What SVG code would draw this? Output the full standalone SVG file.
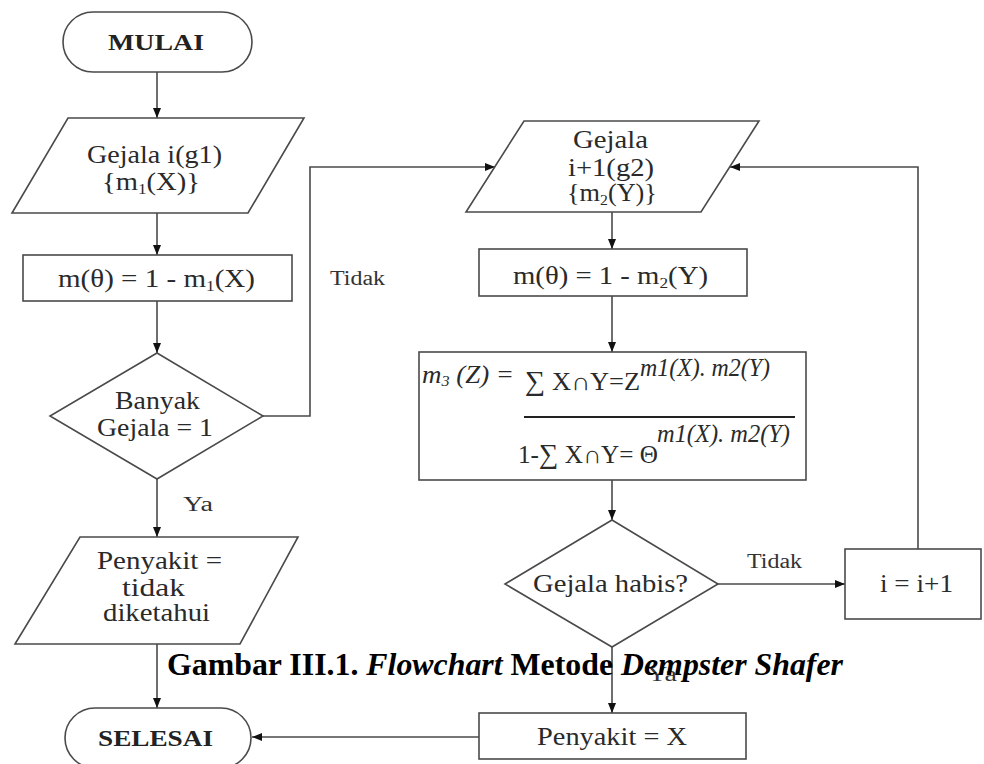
<svg xmlns="http://www.w3.org/2000/svg" width="984" height="764" viewBox="0 0 984 764">
  <style>
    .shape { fill: #ffffff; stroke: #4a4a4a; stroke-width: 1.6; }
    .wire { fill: none; stroke: #4a4a4a; stroke-width: 1.6; }
    .t { font-family: "Liberation Serif", "Times New Roman", serif; font-size: 25px; fill: #2a2a2a; }
    .b { font-weight: bold; font-size: 23px; fill: #222; }
    .lbl { font-family: "Liberation Serif", "Times New Roman", serif; font-size: 20px; fill: #333; }
    .it { font-style: italic; }
    .cap { font-family: "Liberation Serif", "Times New Roman", serif; font-size: 32px; font-weight: bold; fill: #000; }
  </style>
  <defs>
    <marker id="arrow" markerUnits="userSpaceOnUse" markerWidth="10" markerHeight="8" refX="10" refY="4" orient="auto">
      <path d="M0,0 L10,4 L0,8 z" fill="#111"/>
    </marker>
  </defs>

  <rect width="984" height="764" fill="#ffffff"/>

  <!-- connectors -->
  <g id="connectors">
    <path class="wire" d="M157,72 V118" marker-end="url(#arrow)"/>
    <path class="wire" d="M157,213 V255" marker-end="url(#arrow)"/>
    <path class="wire" d="M157,301 V353" marker-end="url(#arrow)"/>
    <path class="wire" d="M263,416 H310 V167 H495" marker-end="url(#arrow)"/>
    <path class="wire" d="M157,479 V537" marker-end="url(#arrow)"/>
    <path class="wire" d="M157,644 V708" marker-end="url(#arrow)"/>
    <path class="wire" d="M612,212 V249" marker-end="url(#arrow)"/>
    <path class="wire" d="M612,296 V352" marker-end="url(#arrow)"/>
    <path class="wire" d="M612,480 V520" marker-end="url(#arrow)"/>
    <path class="wire" d="M718,584 H845" marker-end="url(#arrow)"/>
    <path class="wire" d="M918,549 V167 H730" marker-end="url(#arrow)"/>
    <path class="wire" d="M612,647 V713" marker-end="url(#arrow)"/>
    <path class="wire" d="M479,737 H252" marker-end="url(#arrow)"/>
    <text class="lbl" x="183" y="511" textLength="30" lengthAdjust="spacingAndGlyphs">Ya</text>
    <text class="lbl" x="330" y="285" textLength="55" lengthAdjust="spacingAndGlyphs">Tidak</text>
    <text class="lbl" x="747" y="568" textLength="55" lengthAdjust="spacingAndGlyphs">Tidak</text>
    <text class="lbl" x="647" y="681" textLength="30" lengthAdjust="spacingAndGlyphs" fill="#777">Ya</text>
  </g>

  <!-- start -->
  <g id="mulai">
    <rect class="shape" x="63" y="12" width="189" height="60" rx="30" ry="30"/>
    <text class="t b" x="108" y="50" textLength="96" lengthAdjust="spacingAndGlyphs">MULAI</text>
  </g>

  <!-- first symptom input -->
  <g id="gejala1">
    <polygon class="shape" points="68,118 304,118 248,213 12,213"/>
    <text class="t" x="87" y="163" textLength="135" lengthAdjust="spacingAndGlyphs">Gejala i(g1)</text>
    <text class="t" x="102" y="190" textLength="98" lengthAdjust="spacingAndGlyphs">{m<tspan font-size="15" dy="4">1</tspan><tspan dy="-4">(X)}</tspan></text>
  </g>

  <!-- theta for first symptom -->
  <g id="theta1">
    <rect class="shape" x="23" y="255" width="269" height="46"/>
    <text class="t" x="58" y="287" textLength="197" lengthAdjust="spacingAndGlyphs">m(θ) = 1 - m<tspan font-size="15" dy="4">1</tspan><tspan dy="-4">(X)</tspan></text>
  </g>

  <!-- decision: one symptom -->
  <g id="banyak">
    <polygon class="shape" points="157,353 263,416 157,479 50,416"/>
    <text class="t" x="115" y="409" textLength="85" lengthAdjust="spacingAndGlyphs">Banyak</text>
    <text class="t" x="97" y="436" textLength="116" lengthAdjust="spacingAndGlyphs">Gejala = 1</text>
  </g>

  <!-- unknown disease output -->
  <g id="tidak-diketahui">
    <polygon class="shape" points="80,537 298,537 240,644 15,644"/>
    <text class="t" x="97" y="569" textLength="125" lengthAdjust="spacingAndGlyphs">Penyakit =</text>
    <text class="t" x="122" y="596" textLength="63" lengthAdjust="spacingAndGlyphs">tidak</text>
    <text class="t" x="103" y="621" textLength="107" lengthAdjust="spacingAndGlyphs">diketahui</text>
  </g>

  <!-- end -->
  <g id="selesai">
    <rect class="shape" x="65" y="708" width="186" height="60" rx="30" ry="30"/>
    <text class="t b" x="98" y="746" textLength="115" lengthAdjust="spacingAndGlyphs">SELESAI</text>
  </g>

  <!-- next symptom input -->
  <g id="gejala2">
    <polygon class="shape" points="524,121 759,121 701,212 466,212"/>
    <text class="t" x="573" y="148" textLength="75" lengthAdjust="spacingAndGlyphs">Gejala</text>
    <text class="t" x="568" y="176" textLength="86" lengthAdjust="spacingAndGlyphs">i+1(g2)</text>
    <text class="t" x="567" y="201" textLength="90" lengthAdjust="spacingAndGlyphs">{m<tspan font-size="15" dy="4">2</tspan><tspan dy="-4">(Y)}</tspan></text>
  </g>

  <!-- theta for next symptom -->
  <g id="theta2">
    <rect class="shape" x="479" y="249" width="268" height="47"/>
    <text class="t" x="513" y="284" textLength="195" lengthAdjust="spacingAndGlyphs">m(θ) = 1 - m<tspan font-size="15" dy="4">2</tspan><tspan dy="-4">(Y)</tspan></text>
  </g>

  <!-- combination rule -->
  <g id="kombinasi">
    <rect class="shape" x="419" y="352" width="387" height="128"/>
    <text class="t it" x="422" y="383" font-size="23" textLength="92" lengthAdjust="spacingAndGlyphs">m<tspan font-size="15" dy="3">3</tspan><tspan dy="-3"> (Z) =</tspan></text>
    <text class="t" x="525" y="390" font-size="21" textLength="115" lengthAdjust="spacingAndGlyphs"><tspan font-size="27">∑</tspan> X∩Y=Z</text>
    <text class="t it" x="640" y="376" font-size="19" textLength="130" lengthAdjust="spacingAndGlyphs">m1(X). m2(Y)</text>
    <line x1="524" y1="417" x2="795" y2="417" stroke="#222" stroke-width="2"/>
    <text class="t" x="518" y="463" font-size="21" textLength="140" lengthAdjust="spacingAndGlyphs">1-<tspan font-size="27">∑</tspan> X∩Y= Θ</text>
    <text class="t it" x="657" y="442" font-size="19" textLength="133" lengthAdjust="spacingAndGlyphs">m1(X). m2(Y)</text>
  </g>

  <!-- decision: symptoms finished -->
  <g id="habis">
    <polygon class="shape" points="612,520 718,584 612,647 505,584"/>
    <text class="t" x="533" y="592" textLength="155" lengthAdjust="spacingAndGlyphs">Gejala habis?</text>
  </g>

  <!-- counter increment -->
  <g id="increment">
    <rect class="shape" x="845" y="549" width="136" height="70"/>
    <text class="t" x="880" y="592" textLength="73" lengthAdjust="spacingAndGlyphs">i = i+1</text>
  </g>

  <!-- result -->
  <g id="hasil">
    <rect class="shape" x="479" y="713" width="267" height="46"/>
    <text class="t" x="537" y="745" textLength="150" lengthAdjust="spacingAndGlyphs">Penyakit = X</text>
  </g>

  <!-- figure caption -->
  <text class="cap" x="167" y="675" textLength="676" lengthAdjust="spacingAndGlyphs">Gambar III.1. <tspan font-style="italic">Flowchart</tspan> Metode <tspan font-style="italic">Dempster Shafer</tspan></text>
</svg>
